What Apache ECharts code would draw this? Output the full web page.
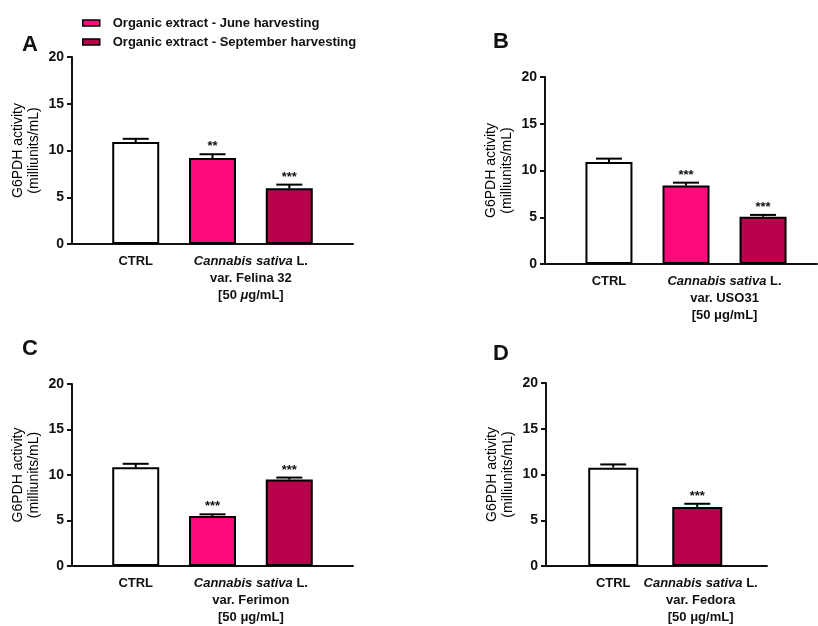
<!DOCTYPE html>
<html>
<head>
<meta charset="utf-8">
<script src="https://cdn.jsdelivr.net/npm/echarts@6/dist/echarts.min.js"></script>
<style>
html,body{margin:0;padding:0;background:#fff;}
#chart{width:818px;height:626px;}
</style>
</head>
<body>
<div id="chart"></div>
<script>
// ---- data ----
const panelLetters = ['A', 'B', 'C', 'D'];
const varieties = ['Felina 32', 'USO31', 'Ferimon', 'Fedora'];
const ctrlLabel = 'CTRL';
const seriesNames = ['Organic extract - June harvesting', 'Organic extract - September harvesting'];
const ctrlMean = [10.9, 10.9, 10.85, 10.75];
const ctrlSem = [0.35, 0.37, 0.38, 0.35];
const juneMean = [9.2, 8.4, 5.5, null];
const juneSem = [0.4, 0.3, 0.18, null];
const septMean = [5.95, 5.05, 9.5, 6.45];
const septSem = [0.4, 0.2, 0.22, 0.35];
const juneStars = ['**', '***', '***', ''];
const septStars = ['***', '***', '***', '***'];
const yTicks = [0, 5, 10, 15, 20];

// ---- styles / layout ----
const FONT = "'Liberation Sans', Arial, sans-serif";
const INK = '#111';
const COL_CTRL = '#ffffff';
const COL_JUNE = '#ff0a7b';
const COL_SEPT = '#b8004b';

const layout = [
  {left: 72, top: 57, width: 281, height: 187, xmin: 0.17, xmax: 3.83, barW: 47, lblX: 2.5, letter: [22, 34]},
  {left: 545, top: 77, width: 272, height: 187, xmin: 0.17, xmax: 3.7, barW: 47, lblX: 2.5, letter: [493, 31]},
  {left: 72, top: 384, width: 281, height: 187, xmin: 0.17, xmax: 3.83, barW: 47, lblX: 2.5, letter: [22, 338]},
  {left: 546, top: 383, width: 221, height: 187, xmin: 0.2, xmax: 2.83, barW: 50, lblX: 2.04, letter: [493, 343]}
];

const grids = [], xAxes = [], yAxes = [], series = [], titles = [];

panelLetters.forEach((letter, p) => {
  const L = layout[p];
  grids.push({left: L.left, top: L.top, width: L.width, height: L.height, containLabel: false});
  titles.push({text: letter, left: L.letter[0], top: L.letter[1], padding: 0,
    textStyle: {fontSize: 22, fontWeight: 'bold', fontFamily: FONT, color: INK}});

  const muRich = p === 0 ? {fontStyle: 'italic'} : {};
  xAxes.push({
    type: 'value', gridIndex: p, min: L.xmin, max: L.xmax,
    axisLine: {show: true, onZero: false, lineStyle: {color: INK, width: 2}},
    axisTick: {show: false},
    splitLine: {show: false},
    axisLabel: {
      show: true, customValues: [1, L.lblX], margin: 9,
      fontFamily: FONT, fontSize: 13, fontWeight: 'bold', color: INK, lineHeight: 17,
      formatter: function (v) {
        if (Math.abs(v - 1) < 0.01) return ctrlLabel;
        return '{i|Cannabis sativa} L.\nvar. ' + varieties[p] + '\n[50 {mu|μ}g/mL]';
      },
      rich: {
        i: {fontFamily: FONT, fontSize: 13, fontWeight: 'bold', fontStyle: 'italic', color: INK, lineHeight: 17},
        mu: Object.assign({fontFamily: FONT, fontSize: 13, fontWeight: 'bold', color: INK, lineHeight: 17}, muRich)
      }
    }
  });
  yAxes.push({
    type: 'value', gridIndex: p, min: yTicks[0], max: yTicks[yTicks.length - 1], interval: yTicks[1] - yTicks[0],
    name: 'G6PDH activity\n(milliunits/mL)', nameLocation: 'middle', nameGap: 30, nameRotate: 90,
    nameTextStyle: {fontFamily: FONT, fontSize: 14, color: '#000', lineHeight: 16},
    axisLine: {show: true, lineStyle: {color: INK, width: 2}},
    axisTick: {show: true, length: 5, lineStyle: {color: INK, width: 2}},
    splitLine: {show: false},
    axisLabel: {fontFamily: FONT, fontSize: 14, fontWeight: 'bold', color: INK, margin: 8}
  });

  const points = [];
  const barCommon = {type: 'bar', xAxisIndex: p, yAxisIndex: p, barWidth: L.barW, barGap: '-100%',
    itemStyle: {borderColor: '#000', borderWidth: 2}, emphasis: {disabled: true}};

  series.push(Object.assign({}, barCommon, {name: ctrlLabel, data: [[1, ctrlMean[p]]],
    itemStyle: {color: COL_CTRL, borderColor: '#000', borderWidth: 2}}));
  points.push([1, ctrlMean[p], ctrlSem[p], '']);
  let pos = 2;
  if (juneMean[p] != null) {
    series.push(Object.assign({}, barCommon, {name: seriesNames[0], data: [[pos, juneMean[p]]],
      itemStyle: {color: COL_JUNE, borderColor: '#000', borderWidth: 2}}));
    points.push([pos, juneMean[p], juneSem[p], juneStars[p]]);
    pos++;
  }
  series.push(Object.assign({}, barCommon, {name: seriesNames[1], data: [[pos, septMean[p]]],
    itemStyle: {color: COL_SEPT, borderColor: '#000', borderWidth: 2}}));
  points.push([pos, septMean[p], septSem[p], septStars[p]]);

  series.push({
    type: 'custom', name: 'err' + p, xAxisIndex: p, yAxisIndex: p, z: 5,
    data: points.map(d => [d[0], d[1], d[2]]),
    encode: {x: 0, y: 1},
    renderItem: function (params, api) {
      const d = points[params.dataIndex];
      const base = api.coord([d[0], d[1]]);
      const top = api.coord([d[0], d[1] + d[2]]);
      const half = 13;
      const children = [
        {type: 'line', shape: {x1: base[0], y1: base[1], x2: top[0], y2: top[1]}, style: {stroke: '#000', lineWidth: 2}},
        {type: 'line', shape: {x1: top[0] - half, y1: top[1], x2: top[0] + half, y2: top[1]}, style: {stroke: '#000', lineWidth: 2}}
      ];
      if (d[3]) {
        children.push({type: 'text', x: top[0], y: top[1] - 1,
          style: {text: d[3], align: 'center', verticalAlign: 'bottom', fontFamily: FONT, fontSize: 13, fontWeight: 'bold', fill: INK}});
      }
      return {type: 'group', children: children};
    }
  });
});

const chart = echarts.init(document.getElementById('chart'), null, {renderer: 'canvas'});
chart.setOption({
  backgroundColor: '#fff',
  animation: false,
  title: titles,
  legend: {
    data: seriesNames, orient: 'vertical', left: 82, top: 16, padding: 0, itemWidth: 17, itemHeight: 6, itemGap: 5,
    icon: 'rect', selectedMode: false,
    itemStyle: {borderColor: '#000', borderWidth: 1.5},
    textStyle: {fontFamily: FONT, fontSize: 13, fontWeight: 'bold', color: INK, lineHeight: 14, padding: [0, 0, 0, 8]}
  },
  grid: grids,
  xAxis: xAxes,
  yAxis: yAxes,
  series: series
});
</script>
</body>
</html>
